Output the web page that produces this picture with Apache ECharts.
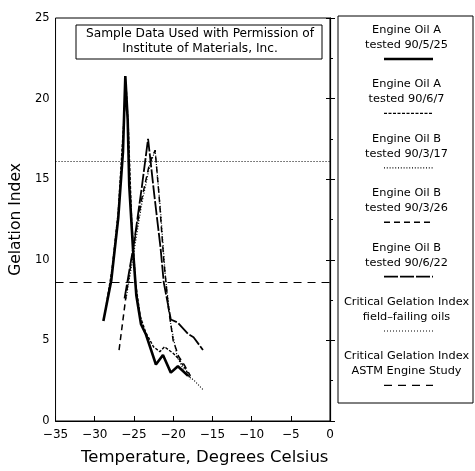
<!DOCTYPE html>
<html>
<head>
<meta charset="utf-8">
<script src="https://cdn.jsdelivr.net/npm/echarts@6/dist/echarts.min.js"></script>
<style>
  html, body { margin: 0; padding: 0; background: #fff; }
  #chart { width: 475px; height: 471px; }
</style>
</head>
<body>
<div id="chart"></div>
<script>
// Temperature (deg C) and gelation index readings for each oil run
const oilA_0525_temp = [-28.9, -27.9, -27.0, -26.4, -26.1, -25.8, -25.6, -25.1, -24.7, -24.1, -23.5, -22.4, -22.2, -21.3, -20.3, -19.4, -18.1];
const oilA_0525_gi   = [6.2, 8.7, 12.6, 16.7, 21.4, 18.7, 14.6, 10.5, 7.8, 6.0, 5.4, 3.8, 3.5, 4.1, 3.0, 3.4, 2.8];

const oilA_0607_temp = [-28.6, -27.8, -27.0, -26.5, -26.0, -25.7, -25.3, -24.8, -24.2, -23.5, -22.5, -21.7, -21.1, -20.0, -19.2, -18.4, -17.8];
const oilA_0607_gi   = [7.0, 9.4, 13.0, 17.0, 20.8, 18.0, 12.5, 8.6, 6.5, 5.5, 4.6, 4.3, 4.6, 4.2, 3.8, 3.2, 2.6];

const oilB_0317_temp = [-26.0, -25.0, -24.0, -23.0, -22.3, -21.6, -21.0, -20.3, -19.5, -18.5, -17.3, -16.1];
const oilB_0317_gi   = [7.6, 10.5, 13.5, 15.8, 16.8, 13.0, 9.0, 6.0, 4.0, 3.0, 2.5, 1.9];

const oilB_0326_temp = [-26.9, -26.0, -25.0, -24.0, -23.0, -22.3, -21.8, -21.2, -20.6, -20.0, -19.3, -18.6, -17.8];
const oilB_0326_gi   = [4.4, 7.8, 11.0, 13.8, 16.0, 16.8, 14.0, 10.0, 7.0, 5.0, 4.0, 3.5, 2.8];

const oilB_0622_temp = [-26.2, -25.0, -24.0, -23.2, -22.4, -21.6, -21.2, -20.3, -19.4, -18.1, -17.4, -16.2];
const oilB_0622_gi   = [7.6, 11.0, 14.5, 17.5, 14.0, 10.7, 8.6, 6.3, 6.1, 5.4, 5.2, 4.4];

// Critical gelation index thresholds
const critFieldFailing = 16.1;
const critAstmStudy = 8.6;

// Legend entries: [first line, second line]
const legendLabels = [
  ['Engine Oil A', 'tested 90/5/25'],
  ['Engine Oil A', 'tested 90/6/7'],
  ['Engine Oil B', 'tested 90/3/17'],
  ['Engine Oil B', 'tested 90/3/26'],
  ['Engine Oil B', 'tested 90/6/22'],
  ['Critical Gelation Index', 'field\u2013failing oils'],
  ['Critical Gelation Index', 'ASTM Engine Study']
];

const FONT = 'DejaVu Sans';

const styles = [
  { width: 2.6, type: 'solid' },
  { width: 1.4, type: [3, 1.5] },
  { width: 1.2, type: [1, 1.8] },
  { width: 1.5, type: [6, 4] },
  { width: 1.8, type: [14, 2] },
  { width: 1, type: [1, 2] },
  { width: 1.2, type: [8, 6] }
];

function zip(xs, ys) { return xs.map((x, i) => [x, ys[i]]); }

const runs = [
  zip(oilA_0525_temp, oilA_0525_gi),
  zip(oilA_0607_temp, oilA_0607_gi),
  zip(oilB_0317_temp, oilB_0317_gi),
  zip(oilB_0326_temp, oilB_0326_gi),
  zip(oilB_0622_temp, oilB_0622_gi)
];

const series = runs.map((d, i) => ({
  type: 'line',
  data: d,
  showSymbol: false,
  smooth: false,
  lineStyle: { color: '#000', width: styles[i].width, type: styles[i].type },
  z: 3 + i
}));

series.push({
  type: 'line',
  data: [],
  markLine: {
    silent: true,
    symbol: 'none',
    label: { show: false },
    data: [
      { yAxis: critFieldFailing, lineStyle: { color: '#000', width: styles[5].width, type: styles[5].type } },
      { yAxis: critAstmStudy, lineStyle: { color: '#000', width: styles[6].width, type: styles[6].type } }
    ]
  }
});

// Legend panel drawn as graphic elements
const legendGraphics = [];
const lgX = 338, lgY = 16, lgW = 135, lgH = 387;
legendGraphics.push({
  type: 'rect', shape: { x: lgX, y: lgY, width: lgW, height: lgH },
  style: { fill: 'none', stroke: '#000', lineWidth: 1 }
});
legendLabels.forEach((lab, i) => {
  const y0 = 30 + i * 54.4;
  const cx = lgX + lgW / 2 + 1;
  legendGraphics.push({
    type: 'text', x: cx, y: y0,
    style: { text: lab[0], font: '11.3px ' + FONT, fill: '#000', align: 'center', verticalAlign: 'middle' }
  });
  legendGraphics.push({
    type: 'text', x: cx, y: y0 + 15,
    style: { text: lab[1], font: '11.3px ' + FONT, fill: '#000', align: 'center', verticalAlign: 'middle' }
  });
  legendGraphics.push({
    type: 'line', shape: { x1: 384, y1: y0 + 29, x2: 433, y2: y0 + 29 },
    style: { stroke: '#000', lineWidth: styles[i].width, lineDash: styles[i].type === 'solid' ? null : styles[i].type }
  });
});

// Permission note box
legendGraphics.push({
  type: 'rect', shape: { x: 76, y: 25, width: 246, height: 34 },
  style: { fill: '#fff', stroke: '#000', lineWidth: 1 }, z: 20
});
legendGraphics.push({
  type: 'text', x: 200, y: 34, z: 21,
  style: { text: 'Sample Data Used with Permission of', font: '12.2px ' + FONT, fill: '#000', align: 'center', verticalAlign: 'middle' }
});
legendGraphics.push({
  type: 'text', x: 200, y: 49, z: 21,
  style: { text: 'Institute of Materials, Inc.', font: '12.2px ' + FONT, fill: '#000', align: 'center', verticalAlign: 'middle' }
});

const chart = echarts.init(document.getElementById('chart'), null, { renderer: 'canvas' });
chart.setOption({
  animation: false,
  backgroundColor: '#fff',
  textStyle: { fontFamily: FONT },
  grid: { left: 54, top: 18, right: 145, bottom: 47, show: true, borderColor: '#000', borderWidth: 1 },
  xAxis: {
    type: 'value', min: -35, max: 0, interval: 5,
    name: 'Temperature, Degrees Celsius', nameLocation: 'middle', nameGap: 28,
    nameTextStyle: { fontSize: 16.5, color: '#000', fontFamily: FONT, padding: [0, 0, 0, 24] },
    axisLine: { lineStyle: { color: '#000', width: 1.2 } },
    axisTick: { inside: true, length: 5, lineStyle: { color: '#000' } },
    axisLabel: { color: '#000', fontSize: 12, margin: 8, fontFamily: FONT,
      formatter: v => (v < 0 ? '\u2212' + Math.abs(v) : String(v)) },
    splitLine: { show: false }
  },
  yAxis: [{
    type: 'value', min: 0, max: 25, interval: 5,
    name: 'Gelation Index', nameLocation: 'middle', nameGap: 26,
    nameTextStyle: { fontSize: 15.5, color: '#000', fontFamily: FONT },
    axisLine: { show: true, lineStyle: { color: '#000', width: 1.2 } },
    axisTick: { show: true, inside: true, length: 5, lineStyle: { color: '#000' } },
    minorTick: { show: true, splitNumber: 2, length: 3, lineStyle: { color: '#000' } },
    axisLabel: { color: '#000', fontSize: 11.5, margin: 6, fontFamily: FONT },
    splitLine: { show: false }
  }, {
    type: 'value', min: 0, max: 25, interval: 5, position: 'right',
    axisLine: { show: true, lineStyle: { color: '#000', width: 1 } },
    axisTick: { show: true, inside: true, length: 4, lineStyle: { color: '#000' } },
    axisLabel: { show: false },
    splitLine: { show: false }
  }],
  series: series,
  graphic: legendGraphics
});
</script>
</body>
</html>
